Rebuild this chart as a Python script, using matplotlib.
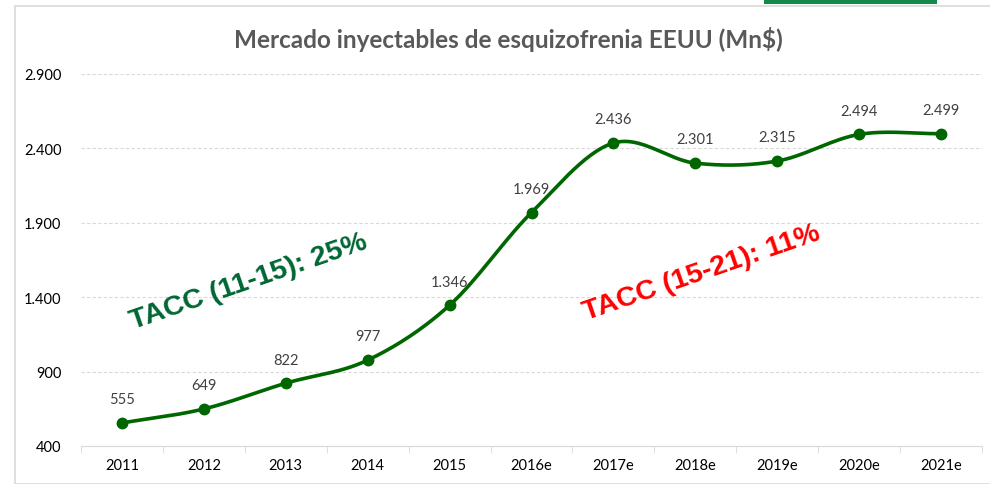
import numpy as np
import matplotlib.pyplot as plt
from matplotlib.patches import Rectangle

years = ['2011', '2012', '2013', '2014', '2015', '2016e', '2017e',
         '2018e', '2019e', '2020e', '2021e']
ventas = [555, 649, 822, 977, 1346, 1969, 2436, 2301, 2315, 2494, 2499]
yticks = [400, 900, 1400, 1900, 2400, 2900]
title = 'Mercado inyectables de esquizofrenia EEUU (Mn$)'


def smooth(x, y, n=30):
    # catmull-rom like Excel smoothed line
    x = np.asarray(x, float)
    y = np.asarray(y, float)
    px = np.concatenate([[2*x[0]-x[1]], x, [2*x[-1]-x[-2]]])
    py = np.concatenate([[2*y[0]-y[1]], y, [2*y[-1]-y[-2]]])
    xs, ys = [], []
    t = np.linspace(0, 1, n)
    for i in range(1, len(px)-2):
        for p, out in ((px, xs), (py, ys)):
            p0, p1, p2, p3 = p[i-1], p[i], p[i+1], p[i+2]
            out.extend(0.5*((2*p1) + (-p0+p2)*t + (2*p0-5*p1+4*p2-p3)*t**2
                            + (-p0+3*p1-3*p2+p3)*t**3))
    return np.array(xs), np.array(ys)


fmt = lambda v: f'{v:,}'.replace(',', '.')

fig = plt.figure(figsize=(9.9, 4.85), dpi=100)
fig.patches.append(Rectangle((15/990, 0), 1, 1-7/485, transform=fig.transFigure,
                             fill=False, edgecolor='#d9d9d9', lw=1.2))
fig.patches.append(Rectangle((764/990, 1-5/485), 173/990, 5/485, transform=fig.transFigure,
                             color='#138a4a', lw=0))
ax = fig.add_axes([81/990, 1-447/485, 901/990, 372/485])

xi = np.arange(len(years))
sx, sy = smooth(xi, ventas)
ax.plot(sx, sy, color='#006600', lw=2.6, solid_capstyle='round', zorder=3)
ax.plot(xi, ventas, 'o', color='#006600', ms=7.5, zorder=4)
for x, v in zip(xi, ventas):
    ax.annotate(fmt(v), (x, v), xytext=(0, 12), textcoords='offset points',
                ha='center', va='bottom', fontsize=10.5, color='#404040', family='Lato')

ax.set_xlim(-0.5, len(years)-0.5)
ax.set_ylim(400, 2900)
ax.set_yticks(yticks)
ax.set_yticklabels([fmt(v) for v in yticks], fontsize=10.5, family='Lato', color='black')
ax.set_xticks(xi)
ax.set_xticklabels(years, fontsize=10.5, family='Lato', color='black')
ax.set_xticks(np.arange(-0.5, len(years)), minor=True)
ax.tick_params(axis='x', which='major', length=0, pad=9)
ax.tick_params(axis='x', which='minor', length=5, color='#d9d9d9')
ax.tick_params(axis='y', length=0, pad=14)
ax.grid(axis='y', ls=(0, (3, 2)), color='#d9d9d9', lw=0.8)
for s in ['top', 'right', 'left']:
    ax.spines[s].set_visible(False)
ax.spines['bottom'].set_color('#d9d9d9')
ax.set_axisbelow(True)

fig.text(508/990, 1-40/485, title, ha='center', va='center', fontsize=17.5,
         fontweight='bold', color='#595959', family='Lato')
ax.text(1.55, 1505, 'TACC (11-15): 25%', rotation=19, ha='center', va='center',
        fontsize=20.5, fontweight='bold', color='#006633',
        family=['Liberation Sans', 'DejaVu Sans'])
ax.text(7.07, 1565, 'TACC (15-21): 11%', rotation=19, ha='center', va='center',
        fontsize=20.5, fontweight='bold', color='#ff0000',
        family=['Liberation Sans', 'DejaVu Sans'])

fig.savefig('out.png', dpi=100)
